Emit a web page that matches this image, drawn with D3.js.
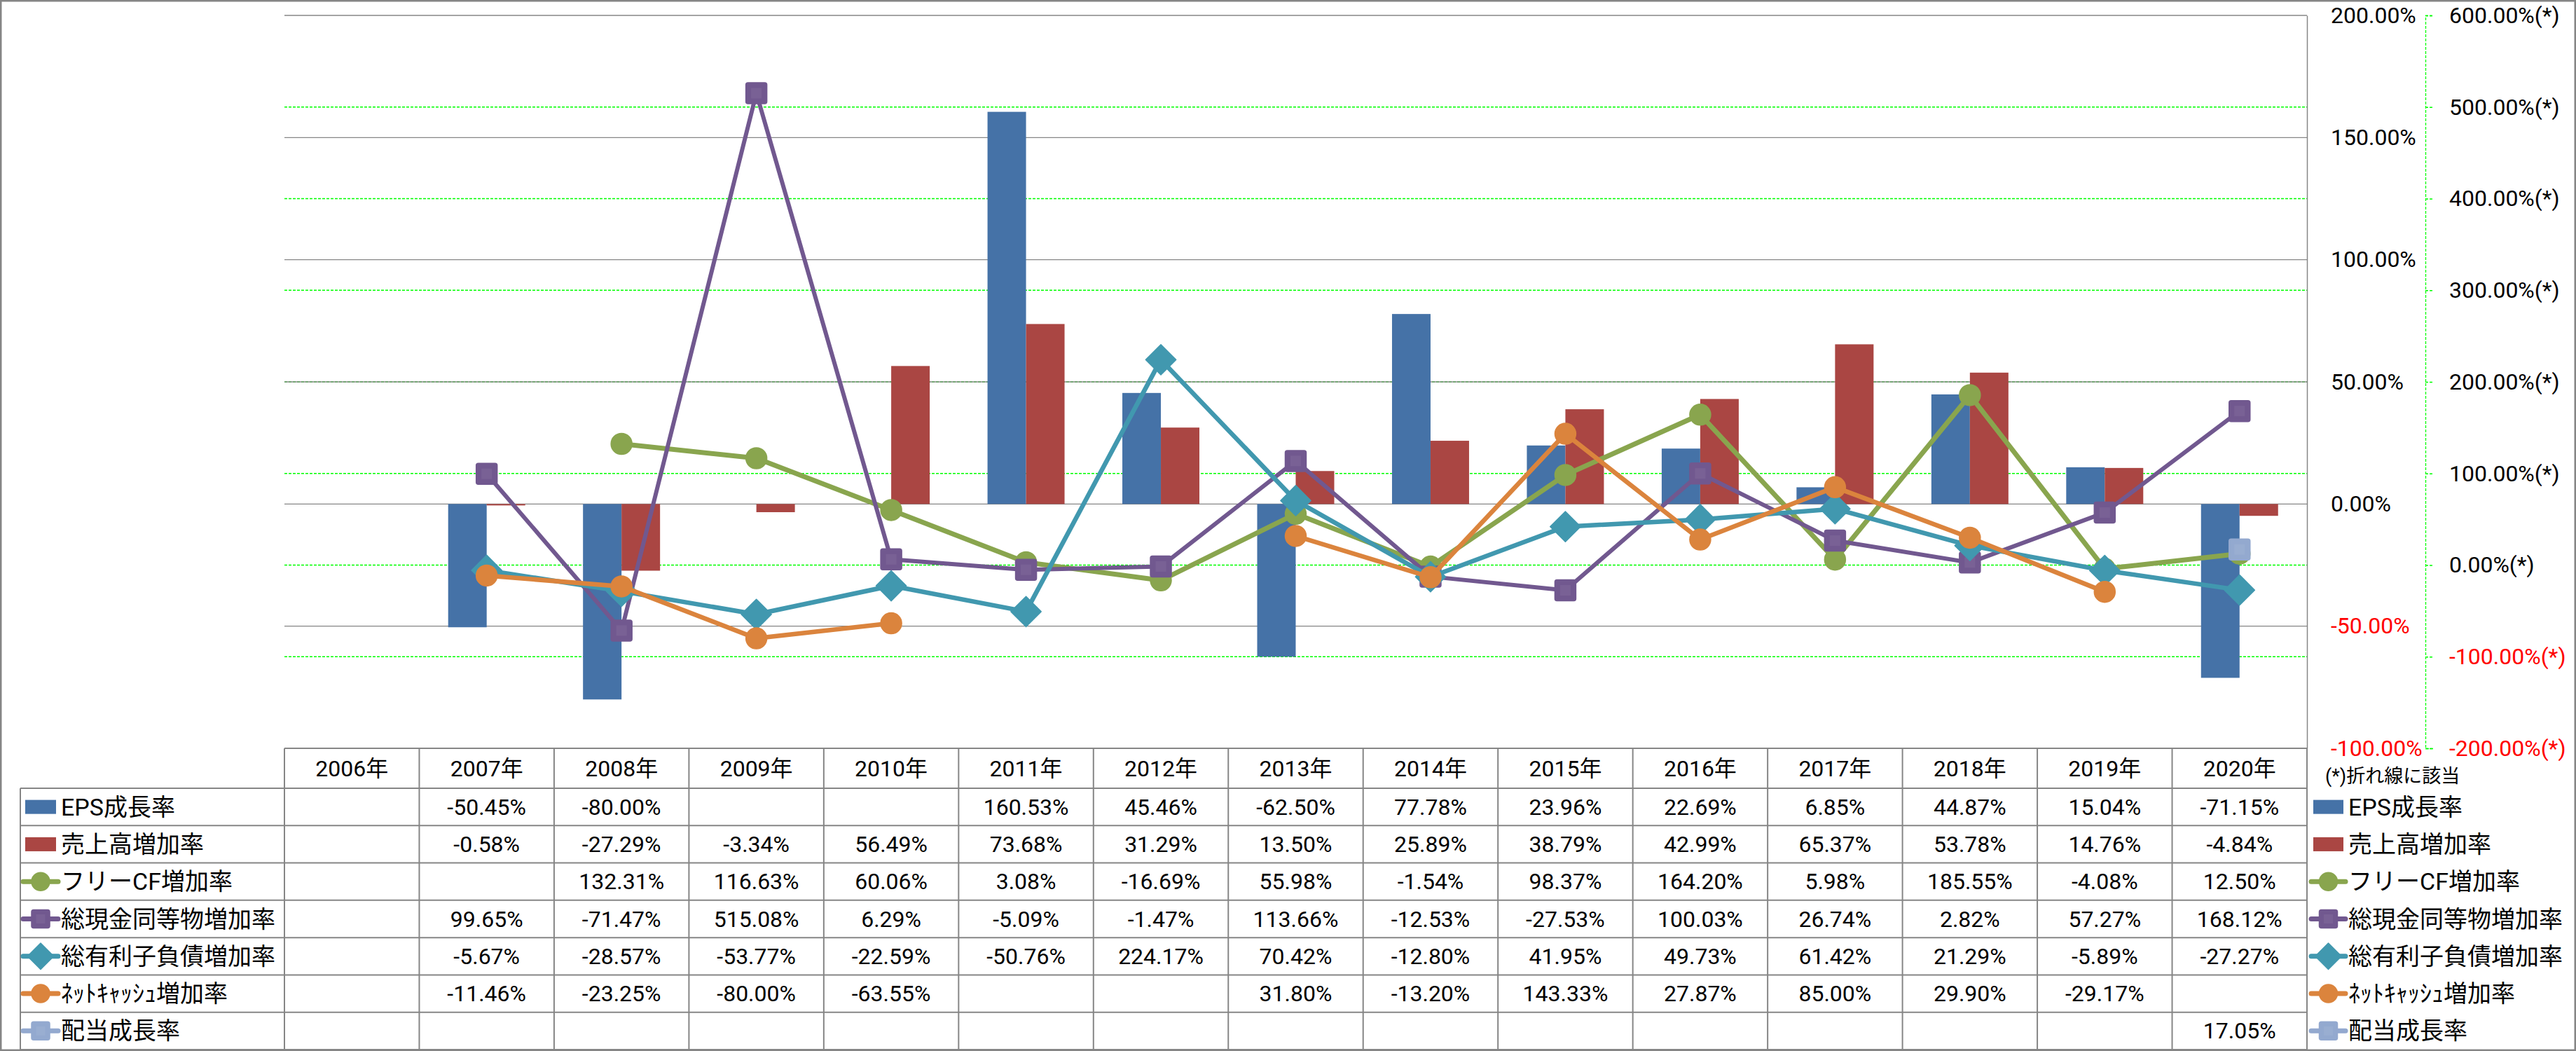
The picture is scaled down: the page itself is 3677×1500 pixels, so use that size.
<!DOCTYPE html>
<html><head><meta charset="utf-8">
<script src="https://cdn.jsdelivr.net/npm/d3@7"></script>
<style>
html,body{margin:0;padding:0;background:#fff;}
svg{display:block;}
text{font-family:Roboto,"Noto Sans CJK JP",sans-serif;}
</style></head><body>
<svg id="chart" width="3677" height="1500"></svg>
<script>
// ---------------- DATA ----------------
const years = ["2006年","2007年","2008年","2009年","2010年","2011年","2012年","2013年","2014年","2015年","2016年","2017年","2018年","2019年","2020年"];
const epsGrowth      = [null,-50.45,-80.00,null,null,160.53,45.46,-62.50,77.78,23.96,22.69,6.85,44.87,15.04,-71.15];
const salesGrowth    = [null,-0.58,-27.29,-3.34,56.49,73.68,31.29,13.50,25.89,38.79,42.99,65.37,53.78,14.76,-4.84];
const freeCfGrowth   = [null,null,132.31,116.63,60.06,3.08,-16.69,55.98,-1.54,98.37,164.20,5.98,185.55,-4.08,12.50];
const cashGrowth     = [null,99.65,-71.47,515.08,6.29,-5.09,-1.47,113.66,-12.53,-27.53,100.03,26.74,2.82,57.27,168.12];
const debtGrowth     = [null,-5.67,-28.57,-53.77,-22.59,-50.76,224.17,70.42,-12.80,41.95,49.73,61.42,21.29,-5.89,-27.27];
const netCashGrowth  = [null,-11.46,-23.25,-80.00,-63.55,null,null,31.80,-13.20,143.33,27.87,85.00,29.90,-29.17,null];
const dividendGrowth = [null,null,null,null,null,null,null,null,null,null,null,null,null,null,17.05];
const leftTicks  = [-100,-50,0,50,100,150,200];
const rightTicks = [-200,-100,0,100,200,300,400,500,600];
const noteText = "(*)折れ線に該当";

const barSeries = [
  {name:"EPS成長率", values:epsGrowth, color:"#4572A7"},
  {name:"売上高増加率", values:salesGrowth, color:"#AA4643"}
];
const lineSeries = [
  {name:"フリーCF増加率", values:freeCfGrowth, color:"#89A54E", marker:"circle", width:7},
  {name:"総現金同等物増加率", values:cashGrowth, color:"#71588F", marker:"square", width:6},
  {name:"総有利子負債増加率", values:debtGrowth, color:"#4198AF", marker:"diamond", width:6.5},
  {name:"ﾈｯﾄｷｬｯｼｭ増加率", values:netCashGrowth, color:"#DB843D", marker:"circle", width:6.5},
  {name:"配当成長率", values:dividendGrowth, color:"#93A9CF", marker:"square", width:6}
];

// ---------------- LAYOUT ----------------
const W = 3677, H = 1500;
const plotL = 406, plotR = 3293, plotT = 22, plotB = 1068;
const headerB = 1125, tableB = 1498, legendL = 29;
const nRows = barSeries.length + lineSeries.length;
const rowH = (tableB - headerB) / nRows;
const gridGray = "#868686";

const svg = d3.select("#chart");

const x = d3.scaleBand().domain(years).range([plotL, plotR]).padding(0);
const xs = d3.scaleBand().domain(d3.range(barSeries.length)).range([0, x.bandwidth()]).paddingInner(0).paddingOuter(0.75);
const yL = d3.scaleLinear().domain([-100, 200]).range([plotB, plotT]);
const yR = d3.scaleLinear().domain([-200, 600]).range([plotB, plotT]);

// outer frame
svg.append("rect").attr("x",1.25).attr("y",1.25).attr("width",W-2.5).attr("height",H-2.5)
  .attr("fill","#fff").attr("stroke",gridGray).attr("stroke-width",2.5);

// secondary gridlines (green dashed)
svg.append("g").selectAll("line").data(rightTicks.filter(t=>t>-200 && t<600)).join("line")
  .attr("x1",plotL).attr("x2",plotR).attr("y1",d=>yR(d)).attr("y2",d=>yR(d))
  .attr("stroke","#00FF00").attr("stroke-width",1.3).attr("stroke-dasharray","4,2");

// primary gridlines (gray)
svg.append("g").selectAll("line").data(leftTicks).join("line")
  .attr("x1",plotL).attr("x2",plotR).attr("y1",d=>yL(d)).attr("y2",d=>yL(d))
  .attr("stroke",gridGray).attr("stroke-width",1.3);

// bars
barSeries.forEach((s,i)=>{
  svg.append("g").selectAll("rect")
    .data(years.map((yr,j)=>({yr, v:s.values[j]})).filter(d=>d.v!=null))
    .join("rect")
    .attr("x",d=>x(d.yr)+xs(i)).attr("width",xs.bandwidth())
    .attr("y",d=>Math.min(yL(d.v),yL(0))).attr("height",d=>Math.abs(yL(d.v)-yL(0)))
    .attr("fill",s.color);
});

// marker helper
function drawMarker(g, type, cx, cy, size, color){
  if(type==="circle"){
    g.append("circle").attr("cx",cx).attr("cy",cy).attr("r",size/2)
      .attr("fill",color).attr("stroke",color).attr("stroke-width",1.5);
  } else if(type==="square"){
    g.append("rect").attr("x",cx-size/2).attr("y",cy-size/2).attr("width",size).attr("height",size)
      .attr("rx",3).attr("fill",color).attr("stroke",color).attr("stroke-width",1.5);
    g.append("rect").attr("x",cx-size/4).attr("y",cy-size/4).attr("width",size/2).attr("height",size/2)
      .attr("fill","#fff").attr("opacity",0.06);
  } else {
    const r = size*0.72;
    g.append("path").attr("d",`M${cx},${cy-r}L${cx+r},${cy}L${cx},${cy+r}L${cx-r},${cy}Z`)
      .attr("fill",color).attr("stroke",color).attr("stroke-width",1.5).attr("stroke-linejoin","round");
  }
}

// lines
const cx = yr => x(yr) + x.bandwidth()/2;
lineSeries.forEach(s=>{
  const pts = years.map((yr,j)=>({yr, v:s.values[j]}));
  const g = svg.append("g");
  const line = d3.line().defined(d=>d.v!=null).x(d=>cx(d.yr)).y(d=>yR(d.v));
  g.append("path").attr("d",line(pts)).attr("fill","none").attr("stroke",s.color)
    .attr("stroke-width",s.width).attr("stroke-linejoin","round").attr("stroke-linecap","round");
  pts.filter(d=>d.v!=null).forEach(d=>drawMarker(g, s.marker, cx(d.yr), yR(d.v), 30, s.color));
});

// primary axis (right of plot)
const fmtL = d=>d.toFixed(2)+"%";
const axL = svg.append("g").attr("transform",`translate(${plotR},0)`)
  .call(d3.axisRight(yL).tickValues(leftTicks).tickSize(0).tickPadding(34).tickFormat(fmtL));
axL.select(".domain").attr("stroke",gridGray).attr("stroke-width",1.5);
axL.selectAll("text").attr("font-size",32).attr("font-family",'Roboto,"Noto Sans CJK JP",sans-serif')
  .attr("fill",d=>d<0?"#FF0000":"#000");

// secondary axis
const secX = 3462;
const fmtR = d=>d.toFixed(2)+"%(*)";
const axR = svg.append("g").attr("transform",`translate(${secX},0)`)
  .call(d3.axisRight(yR).tickValues(rightTicks).tickSizeInner(11).tickSizeOuter(11).tickPadding(23).tickFormat(fmtR));
axR.select(".domain").attr("stroke","#00FF00").attr("stroke-width",1.3).attr("stroke-dasharray","4,2");
axR.selectAll(".tick line").attr("stroke","#00FF00").attr("stroke-width",1.3).attr("stroke-dasharray","4,2");
axR.selectAll("text").attr("font-size",32).attr("font-family",'Roboto,"Noto Sans CJK JP",sans-serif')
  .attr("fill",d=>d<0?"#FF0000":"#000");

// ---------------- DATA TABLE ----------------
const tbl = svg.append("g");
tbl.append("line").attr("x1",plotL).attr("x2",plotR).attr("y1",plotB).attr("y2",plotB)
  .attr("stroke",gridGray).attr("stroke-width",2);
d3.range(nRows+1).forEach(r=>{
  const yy = headerB + r*rowH;
  tbl.append("line").attr("x1",legendL).attr("x2",plotR).attr("y1",yy).attr("y2",yy)
    .attr("stroke",gridGray).attr("stroke-width",2);
});
tbl.append("line").attr("x1",legendL).attr("x2",legendL).attr("y1",headerB).attr("y2",tableB)
  .attr("stroke",gridGray).attr("stroke-width",2);
years.forEach(yr=>{
  tbl.append("line").attr("x1",x(yr)).attr("x2",x(yr)).attr("y1",plotB).attr("y2",tableB)
    .attr("stroke",gridGray).attr("stroke-width",2);
});
tbl.append("line").attr("x1",plotR).attr("x2",plotR).attr("y1",plotB).attr("y2",tableB)
  .attr("stroke",gridGray).attr("stroke-width",2);

// header
tbl.selectAll("text.hdr").data(years).join("text").attr("class","hdr")
  .attr("x",d=>cx(d)).attr("y",(plotB+headerB)/2).attr("text-anchor","middle")
  .attr("dominant-baseline","central").attr("font-size",32).attr("fill","#000").text(d=>d);

const allSeries = [
  ...barSeries.map(s=>({...s, kind:"bar"})),
  ...lineSeries.map(s=>({...s, kind:"line"}))
];
allSeries.forEach((s,r)=>{
  const yc = headerB + (r+0.5)*rowH;
  years.forEach((yr,j)=>{
    const v = s.values[j];
    if(v==null) return;
    tbl.append("text").attr("x",cx(yr)).attr("y",yc).attr("text-anchor","middle")
      .attr("dominant-baseline","central").attr("font-size",32).attr("fill","#000")
      .text(v.toFixed(2)+"%");
  });
  [[33,83,87],[3299,3348,3352]].forEach(([k0,k1,tx])=>{
    const km = (k0+k1)/2;
    if(s.kind==="bar"){
      tbl.append("rect").attr("x",k0+3).attr("y",yc-10).attr("width",k1-k0-6).attr("height",20).attr("fill",s.color);
    } else {
      tbl.append("line").attr("x1",k0).attr("x2",k1).attr("y1",yc).attr("y2",yc)
        .attr("stroke",s.color).attr("stroke-width",7).attr("stroke-linecap","round");
      drawMarker(tbl, s.marker, km, yc, 26, s.color);
    }
    tbl.append("text").attr("x",tx).attr("y",yc).attr("dominant-baseline","central")
      .attr("font-size",34).attr("fill","#000").text(s.name);
  });
});

// note
svg.append("text").attr("x",3319).attr("y",1108).attr("dominant-baseline","central")
  .attr("font-size",27).attr("fill","#000").text(noteText);
</script>
</body></html>
